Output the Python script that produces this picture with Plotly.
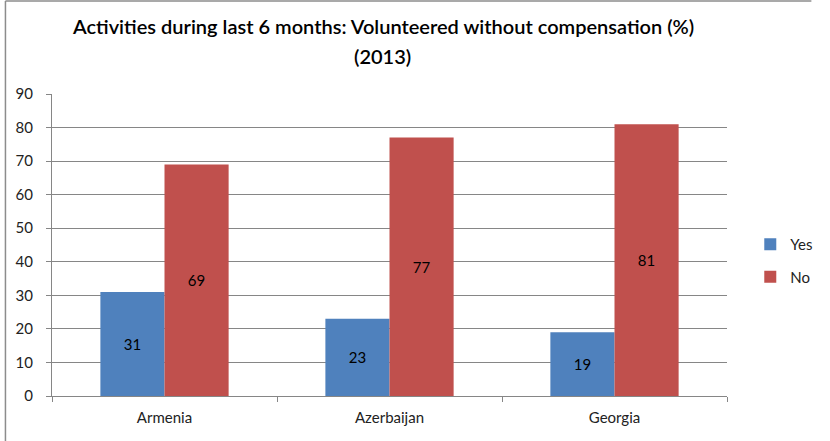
import plotly.graph_objects as go

categories = ["Armenia", "Azerbaijan", "Georgia"]
yes_values = [31, 23, 19]
no_values = [69, 77, 81]
series_names = ["Yes", "No"]
title_lines = ["Activities during last 6 months: Volunteered without compensation (%)", "(2013)"]

W, H = 830, 441
L, R, T, B = 52, 82, 94, 45
pw, ph = W - L - R, H - T - B

font_fam = "Lato, Open Sans, sans-serif"

fig = go.Figure()
fig.add_trace(go.Bar(
    x=categories, y=yes_values, name=series_names[0], legendgroup="g1",
    marker=dict(color="#4F81BD", line=dict(width=0)),
    text=[str(v) for v in yes_values], textposition="inside",
    insidetextanchor="middle",
    textfont=dict(color="#000000", size=15, family=font_fam),
))
fig.add_trace(go.Bar(
    x=categories, y=no_values, name=series_names[1], legendgroup="g2",
    marker=dict(color="#C0504D", line=dict(width=0)),
    text=[str(v) for v in no_values], textposition="inside",
    insidetextanchor="middle",
    textfont=dict(color="#000000", size=15, family=font_fam),
))

def px_x(p):
    return (p - L) / pw

def px_y(p):
    return (H - B - p) / ph

annotations = [
    dict(text=title_lines[0], xref="paper", yref="paper", x=px_x(393), y=px_y(26),
         xanchor="center", yanchor="middle", showarrow=False,
         font=dict(size=20, color="#000000", family=font_fam, weight=600)),
    dict(text=title_lines[1], xref="paper", yref="paper", x=px_x(393), y=px_y(56),
         xanchor="center", yanchor="middle", showarrow=False,
         font=dict(size=20, color="#000000", family=font_fam, weight=600)),
]

fig.update_layout(
    width=W, height=H,
    margin=dict(l=L, r=R, t=T, b=B, pad=0),
    paper_bgcolor="white", plot_bgcolor="white",
    barmode="group", bargap=0.43, bargroupgap=0,
    font=dict(family=font_fam, color="#222222", size=14),
    showlegend=True,
    legend=dict(x=px_x(772), xanchor="left", y=px_y(228), yanchor="top",
                font=dict(size=15, color="#222222"), traceorder="grouped",
                itemwidth=30, tracegroupgap=10, bgcolor="rgba(0,0,0,0)"),
    annotations=annotations,
    shapes=[
        dict(type="line", xref="paper", yref="paper",
             x0=px_x(4), x1=px_x(4), y0=px_y(1), y1=px_y(H + 5),
             line=dict(color="#8c8c8c", width=1.5)),
        dict(type="line", xref="paper", yref="paper",
             x0=px_x(4), x1=px_x(W + 5), y0=px_y(1), y1=px_y(1),
             line=dict(color="#8c8c8c", width=1.5)),
    ],
)

fig.update_xaxes(
    type="category", showgrid=False, showline=True, linecolor="#868686",
    linewidth=1, ticks="outside", tickson="boundaries", ticklen=5,
    tickcolor="#868686", tickfont=dict(size=15, color="#222222"),
    zeroline=False, ticklabelstandoff=8,
)
fig.update_yaxes(
    range=[0, 90], dtick=10, showgrid=True, gridcolor="#868686", gridwidth=1,
    showline=True, linecolor="#868686", linewidth=1, ticks="outside",
    ticklen=5, tickcolor="#868686", tickfont=dict(size=15, color="#222222"),
    zeroline=False, ticklabelstandoff=10,
)

fig.write_html("out.html", config={"displayModeBar": False},
               post_script="document.body.style.margin='0';")
